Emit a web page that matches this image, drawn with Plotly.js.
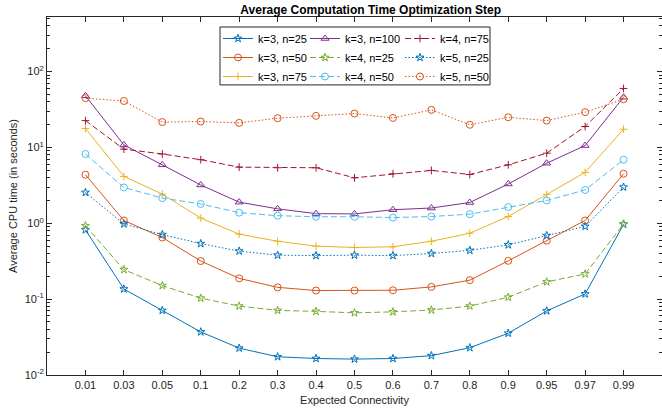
<!DOCTYPE html>
<html>
<head>
<meta charset="utf-8">
<script src="https://cdn.plot.ly/plotly-3.0.1.min.js"></script>
<style>html,body{margin:0;padding:0;background:#fff;}#chart{width:662px;height:416px;}</style>
</head>
<body>
<div id="chart"></div>
<script>
const xLabels = ['0.01','0.03','0.05','0.1','0.2','0.3','0.4','0.5','0.6','0.7','0.8','0.9','0.95','0.97','0.99'];

const k3n25  = [0.82,0.136,0.071,0.037,0.0226,0.0174,0.0165,0.0162,0.0165,0.018,0.0229,0.0355,0.070,0.117,0.97];
const k3n50  = [4.37,1.09,0.65,0.318,0.188,0.143,0.13,0.13,0.131,0.145,0.178,0.32,0.59,1.09,4.5];
const k3n75  = [17.8,4.15,2.43,1.17,0.72,0.58,0.50,0.48,0.49,0.58,0.74,1.23,2.4,4.7,17.4];
const k3n100 = [48,10.8,5.9,3.2,1.9,1.55,1.34,1.33,1.51,1.59,1.88,3.3,6.2,10.6,46];
const k4n25  = [0.93,0.245,0.151,0.103,0.081,0.071,0.069,0.066,0.068,0.072,0.081,0.106,0.169,0.215,0.98];
const k4n50  = [8.2,2.97,2.15,1.8,1.38,1.26,1.22,1.22,1.19,1.23,1.32,1.64,2.0,2.75,6.9];
const k4n75  = [22.6,9.5,8.2,6.9,5.5,5.4,5.4,3.98,4.5,4.98,4.4,5.9,8.4,18.9,60];
const k5n25  = [2.55,0.98,0.71,0.54,0.43,0.38,0.375,0.38,0.375,0.40,0.44,0.52,0.69,0.91,3.0];
const k5n50  = [44.7,41,21.6,22,21.1,24.3,26.1,28,24.5,31.3,19.9,25,22.6,29.2,43.3];

const yTickVals = [0.01,0.1,1,10,100];
const yTickText = ['10<sup>-2</sup>','10<sup>-1</sup>','10<sup>0</sup>','10<sup>1</sup>','10<sup>2</sup>'];
const minorVals = [];
[0.01,0.1,1,10,100].forEach(d => { for (let m = 2; m <= 9; m++) minorVals.push(d*m); });

function tr(name, y, color, dash, symbol, size, legend) {
  return {
    type: 'scatter', mode: 'lines+markers', name: name, x: xLabels, y: y,
    line: {color: color, width: 1, dash: dash},
    marker: {symbol: symbol, size: size, color: color, line: {color: color, width: 1}},
    legend: legend
  };
}

const C = {blue:'#0072BD', orange:'#D95319', yellow:'#EDB120', purple:'#7E2F8E', green:'#77AC30', cyan:'#4DBEEE', red:'#A2142F'};
const DASH = '6px,3px', DOT = '1.5px,2px';

const data = [
  tr('k=3, n=25', k3n25, C.blue, 'solid', 'star-open', 6, 'legend'),
  tr('k=3, n=50', k3n50, C.orange, 'solid', 'circle-open', 7, 'legend'),
  tr('k=3, n=75', k3n75, C.yellow, 'solid', 'cross-thin-open', 5.5, 'legend'),
  tr('k=3, n=100', k3n100, C.purple, 'solid', 'triangle-up-open', 7, 'legend2'),
  tr('k=4, n=25', k4n25, C.green, DASH, 'star-open', 6, 'legend2'),
  tr('k=4, n=50', k4n50, C.cyan, DASH, 'circle-open', 7, 'legend2'),
  tr('k=4, n=75', k4n75, C.red, DASH, 'cross-thin-open', 5.5, 'legend3'),
  tr('k=5, n=25', k5n25, C.blue, DOT, 'star-open', 6, 'legend3'),
  tr('k=5, n=50', k5n50, C.orange, DOT, 'circle-open', 7, 'legend3')
];

const W = 615, L = 47;
function px(p){ return (p - L)/W; }
const T = 17, H = 358.5;
function py(p){ return 1 - (p - T)/H; }

const legBase = {bgcolor:'rgba(0,0,0,0)', borderwidth:0, font:{family:'Liberation Sans, Arial, sans-serif', size:11, color:'#000'}, xanchor:'left', yanchor:'top', orientation:'v', tracegroupgap:0};

const layout = {
  width: 662, height: 416,
  margin: {l: L, r: 0, t: T, b: 416 - T - H},
  paper_bgcolor: '#fff', plot_bgcolor: '#fff',
  font: {family: 'Liberation Sans, Arial, sans-serif', size: 11, color: '#262626'},
  title: {text: '<b>Average Computation Time Optimization Step</b>', font: {size: 12, color: '#000'}, x: 0.56, xanchor: 'center', y: 1 - 10/416, yanchor: 'middle'},
  showlegend: true,
  legend: Object.assign({}, legBase, {x: px(218), y: py(24)}),
  legend2: Object.assign({}, legBase, {x: px(305), y: py(24)}),
  legend3: Object.assign({}, legBase, {x: px(400), y: py(24)}),
  xaxis: {
    type: 'category', range: [-1, 15], showgrid: false, zeroline: false,
    showline: true, linecolor: '#262626', linewidth: 1, mirror: 'ticks',
    ticks: 'inside', ticklen: 5, tickcolor: '#262626',
    tickfont: {size: 11, color: '#262626'},
    title: {text: 'Expected Connectivity', font: {size: 11, color: '#262626'}, standoff: 6}
  },
  yaxis: {
    type: 'log', range: [-2, 2.72], showgrid: false, zeroline: false,
    showline: true, linecolor: '#262626', linewidth: 1, mirror: 'ticks',
    ticks: 'inside', ticklen: 5, tickcolor: '#262626',
    tickmode: 'array', tickvals: yTickVals, ticktext: yTickText,
    tickfont: {size: 11, color: '#262626'},
    minor: {tickmode: 'array', tickvals: minorVals, ticks: 'inside', ticklen: 3, tickcolor: '#262626', showgrid: false},
    title: {text: 'Average CPU time (in seconds)', font: {size: 11, color: '#262626'}, standoff: 4}
  },
  shapes: [{type: 'rect', xref: 'paper', yref: 'paper', x0: px(220), x1: px(490), y0: py(85), y1: py(27), line: {color: '#262626', width: 1}, fillcolor: '#fff', layer: 'above'}]
};

Plotly.newPlot('chart', data, layout, {displayModeBar: false, staticPlot: true});
</script>
</body>
</html>
